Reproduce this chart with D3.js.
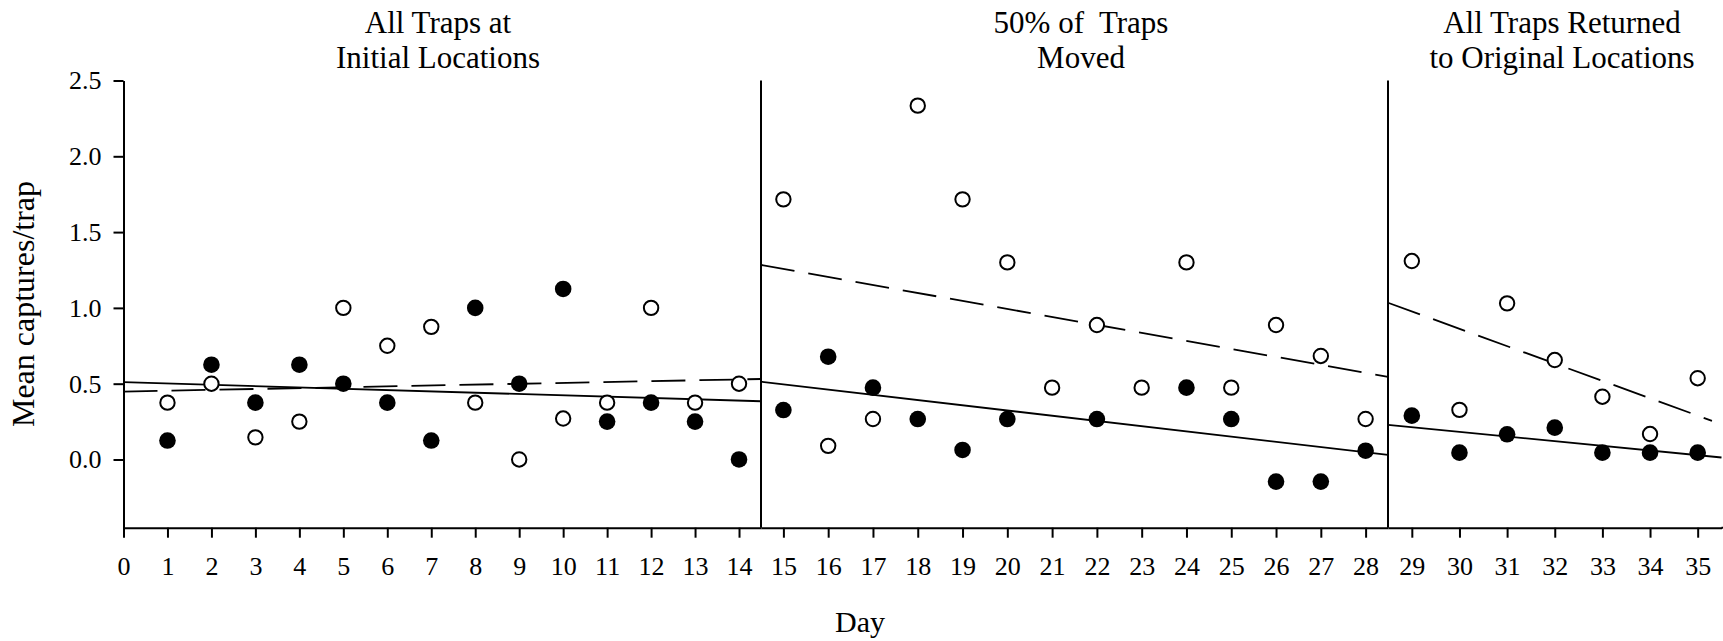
<!DOCTYPE html>
<html lang="en">
<head>
<meta charset="utf-8">
<title>Mean captures per trap by day</title>
<script src="https://d3js.org/d3.v7.min.js"></script>
<style>
    body { margin: 0; background: #fff; }
    svg text { font-family: "Liberation Serif", "Times New Roman", Times, serif; }
</style>
</head>
<body>
<div id="chart-div"></div>
<script>
// ---- data ----
const days = [1, 2, 3, 4, 5, 6, 7, 8, 9, 10, 11, 12, 13, 14,
              15, 16, 17, 18, 19, 20, 21, 22, 23, 24, 25, 26, 27, 28,
              29, 30, 31, 32, 33, 34, 35];
// open circles
const openVals = [0.375, 0.5, 0.146, 0.25, 1.0, 0.75, 0.875, 0.375, 0.0, 0.27, 0.375, 1.0, 0.375, 0.5,
                  1.716, 0.09, 0.267, 2.334, 1.716, 1.30, 0.474, 0.887, 0.474, 1.30, 0.474, 0.887, 0.683, 0.267,
                  1.309, 0.327, 1.03, 0.656, 0.414, 0.168, 0.536];
// filled circles (no filled point on days 21 and 23)
const filledVals = [0.125, 0.625, 0.375, 0.625, 0.5, 0.375, 0.125, 1.0, 0.5, 1.125, 0.25, 0.375, 0.25, 0.0,
                    0.326, 0.678, 0.474, 0.267, 0.063, 0.267, null, 0.267, null, 0.474, 0.267, -0.146, -0.146, 0.058,
                    0.289, 0.045, 0.166, 0.21, 0.045, 0.045, 0.045];

const panelTitles = [["All Traps at", "Initial Locations"],
                     ["50% of  Traps", "Moved"],
                     ["All Traps Returned", "to Original Locations"]];
const panelDomains = [[0, 14.5], [14.5, 28.5], [28.5, 35.5]];
const panelTicks = [[0, 1, 2, 3, 4, 5, 6, 7, 8, 9, 10, 11, 12, 13, 14],
                    [15, 16, 17, 18, 19, 20, 21, 22, 23, 24, 25, 26, 27, 28],
                    [29, 30, 31, 32, 33, 34, 35]];
// fitted lines per panel: [x0, x1] and [y0, y1]
const fitOpenX = [[0, 14.5], [14.5, 28.5], [28.5, 35.3]];
const fitOpenY = [[0.448, 0.531], [1.283, 0.545], [1.034, 0.255]];
const fitFilledX = [[0, 14.5], [14.5, 28.5], [28.5, 35.5]];
const fitFilledY = [[0.51, 0.384], [0.513, 0.03], [0.228, 0.013]];
const yTicks = [0, 0.5, 1.0, 1.5, 2.0, 2.5];

// ---- layout ----
const width = 1723, height = 641;
const panelRanges = [[123.5, 761], [761, 1388], [1388, 1721.5]];
const yTop = 80.5, yBottom = 527.7;
const serif = "Liberation Serif, Times New Roman, serif";

const svg = d3.select("#chart-div").append("svg")
    .attr("width", width)
    .attr("height", height)
    .attr("viewBox", [0, 0, width, height])
    .style("display", "block");

const y = d3.scaleLinear().domain([-0.45, 2.5]).range([yBottom, yTop]);
const xs = panelDomains.map((dom, i) => d3.scaleLinear().domain(dom).range(panelRanges[i]));
// which panel a day falls in
const panelOf = d => d <= 14.5 ? 0 : (d <= 28.5 ? 1 : 2);
const xDay = d => xs[panelOf(d)](d);

// x axes, one per panel
xs.forEach((x, i) => {
    svg.append("g")
        .attr("transform", `translate(0,${yBottom})`)
        .call(d3.axisBottom(x).tickValues(panelTicks[i]).tickFormat(d3.format("d"))
            .tickSize(10).tickSizeOuter(0).tickPadding(19))
        .attr("font-family", serif)
        .attr("font-size", 26)
        .call(g => g.selectAll("path, line").attr("stroke", "#000").attr("stroke-width", 2))
        .call(g => g.selectAll("text").attr("fill", "#000"));
});
// axis line runs to the right edge
svg.append("line")
    .attr("x1", panelRanges[2][1]).attr("x2", width)
    .attr("y1", yBottom).attr("y2", yBottom)
    .attr("stroke", "#000").attr("stroke-width", 2);

// y axis
svg.append("g")
    .attr("transform", `translate(${panelRanges[0][0]},0)`)
    .call(d3.axisLeft(y).tickValues(yTicks).tickFormat(d3.format(".1f"))
        .tickSize(10).tickSizeOuter(0).tickPadding(12))
    .attr("font-family", serif)
    .attr("font-size", 26)
    .call(g => g.selectAll("path, line").attr("stroke", "#000").attr("stroke-width", 2))
    .call(g => g.selectAll("text").attr("fill", "#000"));

// panel dividers
svg.append("g")
    .selectAll("line")
    .data([panelRanges[1][0], panelRanges[2][0]])
    .join("line")
    .attr("x1", d => d).attr("x2", d => d)
    .attr("y1", y(2.5)).attr("y2", y(-0.45))
    .attr("stroke", "#000").attr("stroke-width", 2);

// fitted lines
const fits = svg.append("g").attr("fill", "none").attr("stroke", "#000").attr("stroke-width", 1.8);
xs.forEach((x, i) => {
    fits.append("line")
        .attr("x1", x(fitFilledX[i][0])).attr("x2", x(fitFilledX[i][1]))
        .attr("y1", y(fitFilledY[i][0])).attr("y2", y(fitFilledY[i][1]));
    fits.append("line")
        .attr("x1", x(fitOpenX[i][0])).attr("x2", x(fitOpenX[i][1]))
        .attr("y1", y(fitOpenY[i][0])).attr("y2", y(fitOpenY[i][1]))
        .attr("stroke-dasharray", "34,14");
});

// points
svg.append("g")
    .selectAll("circle")
    .data(days.map((d, i) => ({day: d, v: filledVals[i]})).filter(p => p.v !== null))
    .join("circle")
    .attr("cx", p => xDay(p.day))
    .attr("cy", p => y(p.v))
    .attr("r", 8.3)
    .attr("fill", "#000");

svg.append("g")
    .selectAll("circle")
    .data(days.map((d, i) => ({day: d, v: openVals[i]})))
    .join("circle")
    .attr("cx", p => xDay(p.day))
    .attr("cy", p => y(p.v))
    .attr("r", 7.2)
    .attr("fill", "#fff")
    .attr("stroke", "#000")
    .attr("stroke-width", 2);

// panel titles, one text per line
const titleX = [438, 1081, 1562];
panelTitles.forEach((lines, i) => {
    lines.forEach((s, j) => {
        svg.append("text")
            .attr("x", titleX[i])
            .attr("y", 33 + j * 35)
            .attr("text-anchor", "middle")
            .attr("font-family", serif)
            .attr("font-size", 31)
            .attr("fill", "#000")
            .style("white-space", "pre")
            .text(s);
    });
});

// axis titles
svg.append("text")
    .attr("transform", "translate(34,304) rotate(-90)")
    .attr("text-anchor", "middle")
    .attr("font-family", serif)
    .attr("font-size", 32)
    .attr("fill", "#000")
    .text("Mean captures/trap");

svg.append("text")
    .attr("x", 860).attr("y", 632)
    .attr("text-anchor", "middle")
    .attr("font-family", serif)
    .attr("font-size", 30)
    .attr("fill", "#000")
    .text("Day");
</script>
</body>
</html>
